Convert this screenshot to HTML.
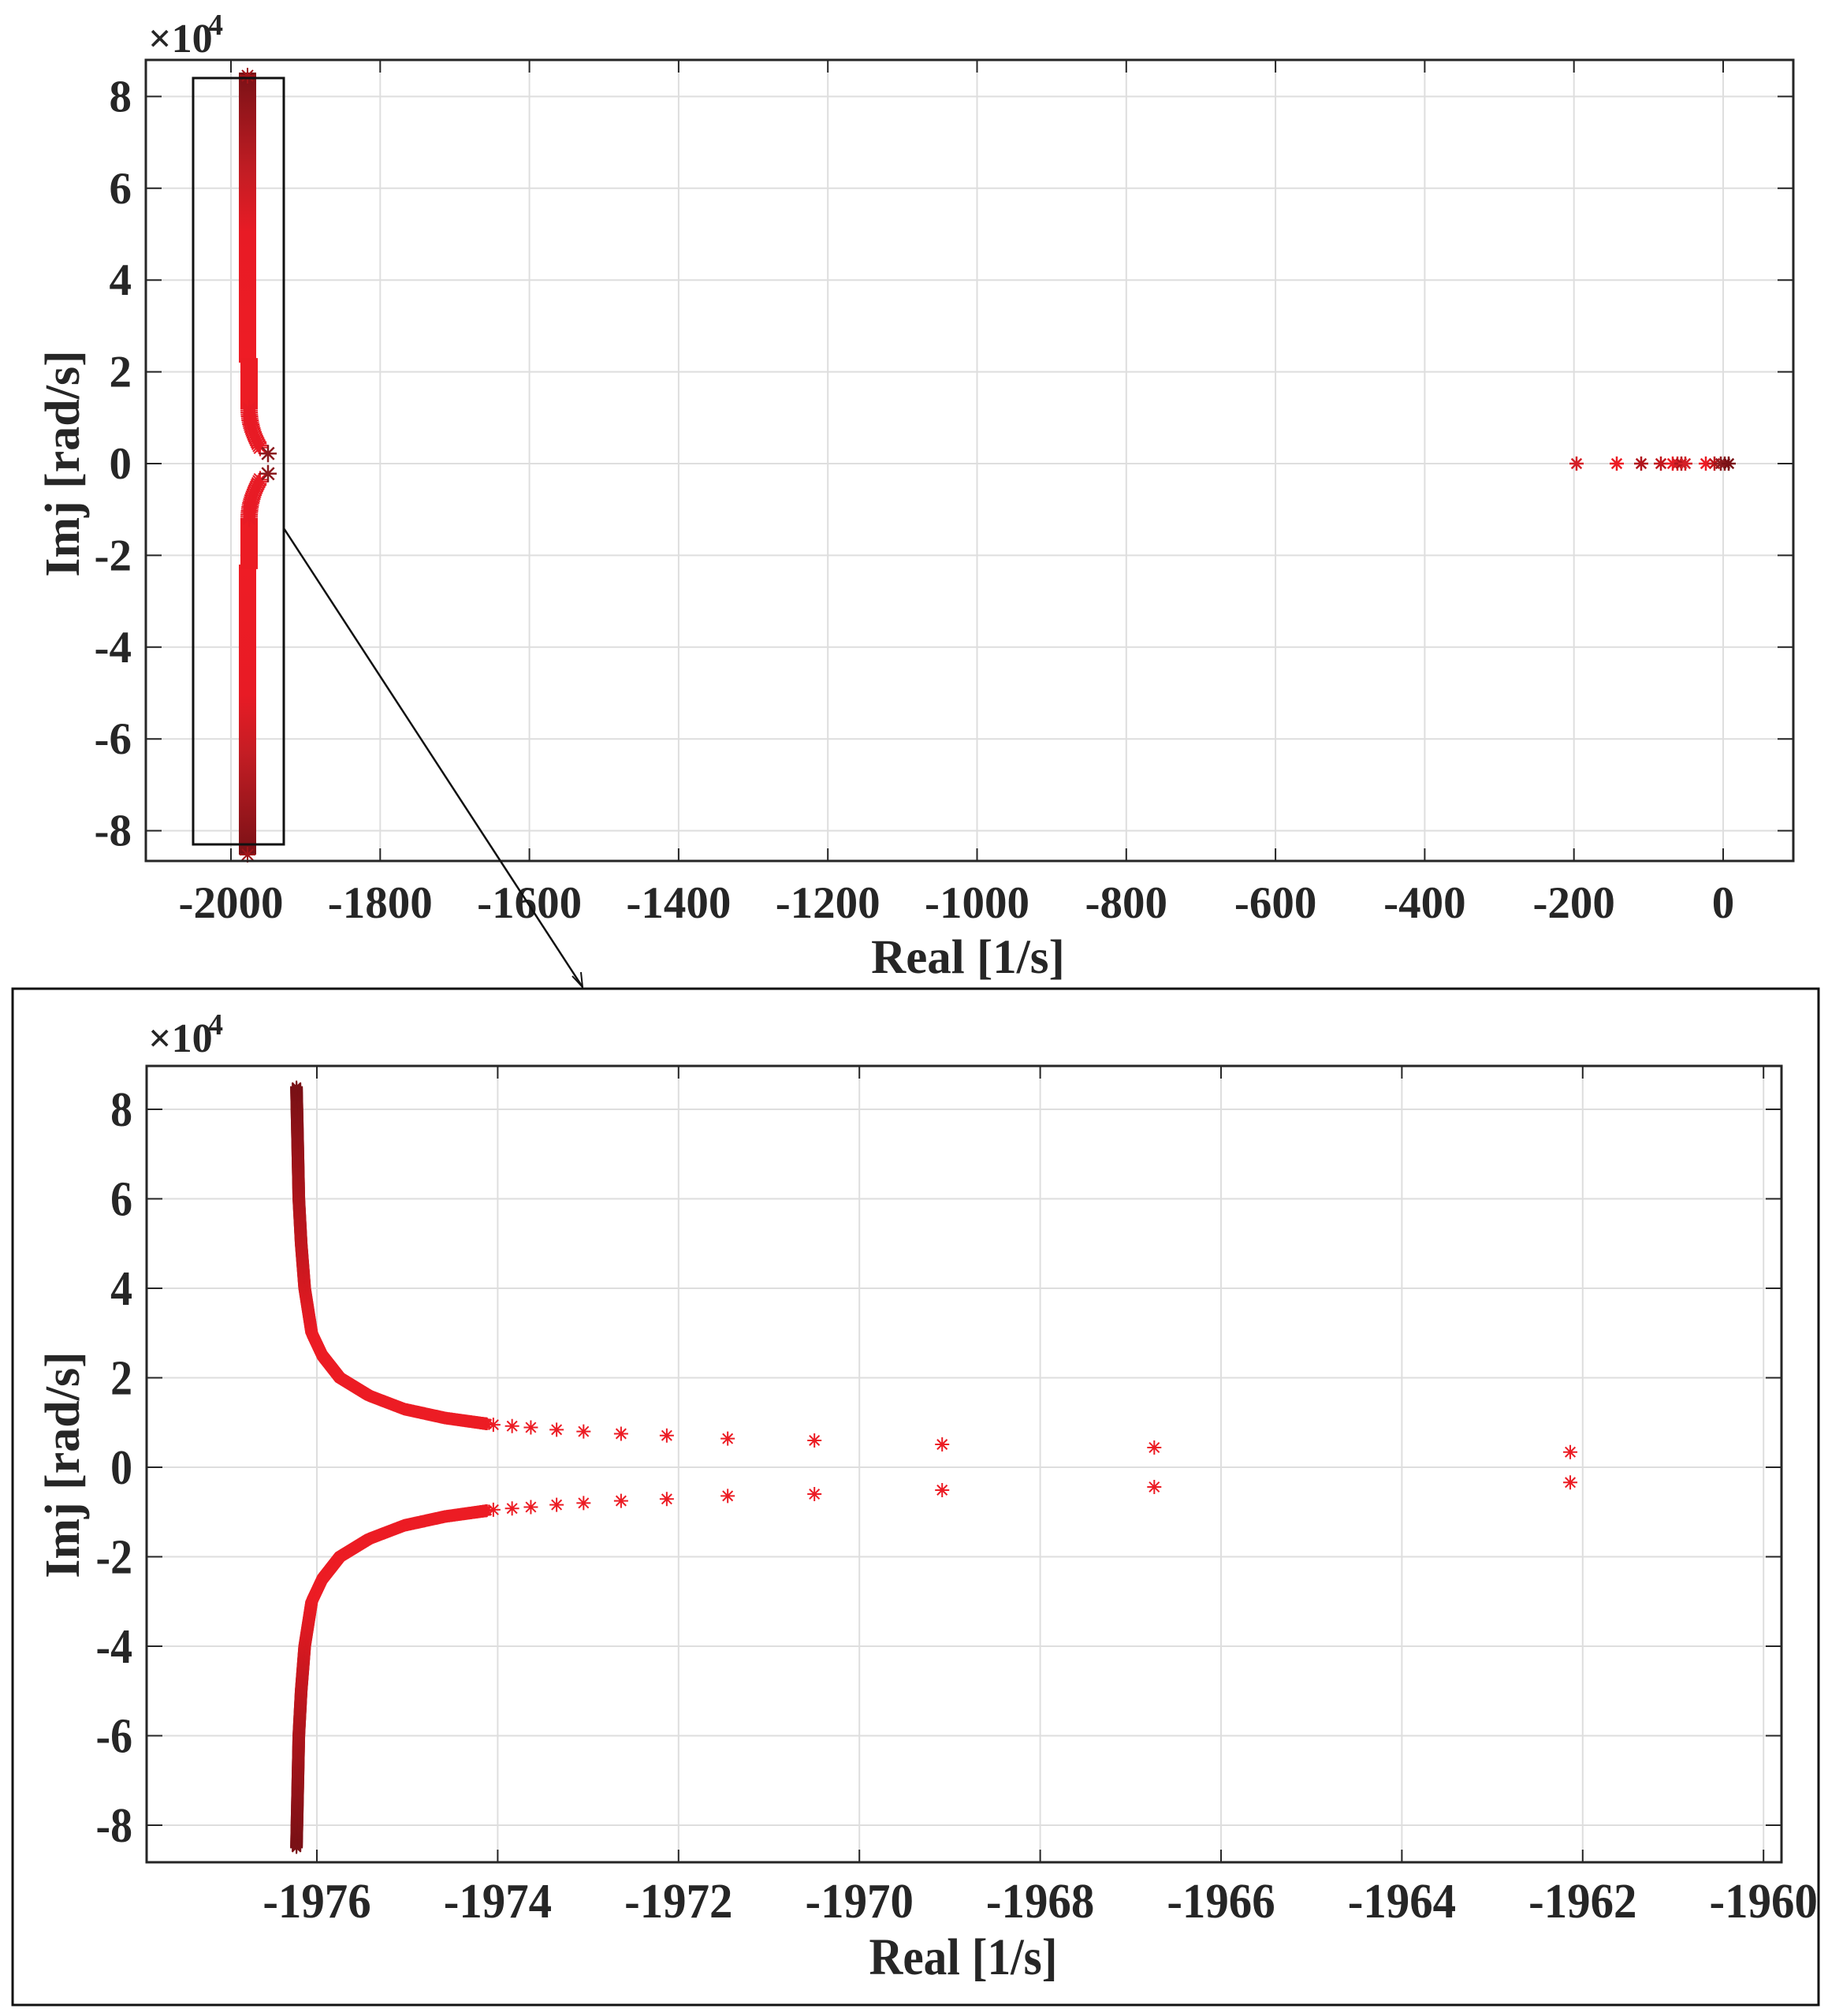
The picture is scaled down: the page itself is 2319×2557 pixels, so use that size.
<!DOCTYPE html>
<html><head><meta charset="utf-8"><style>
html,body{margin:0;padding:0;background:#fff}
svg{display:block}
text{font-family:"Liberation Serif",serif;font-weight:bold;fill:#262626}
</style></head><body>
<svg id="s" width="2319" height="2557" viewBox="0 0 2319 2557" xmlns="http://www.w3.org/2000/svg">
<defs>
<linearGradient id="gb" x1="0" y1="0" x2="0" y2="1">
<stop offset="0" stop-color="#7a1116"/><stop offset="0.35" stop-color="#c41d24"/><stop offset="0.55" stop-color="#e81b25"/><stop offset="1" stop-color="#ee1c25"/>
</linearGradient>
<linearGradient id="gb2" x1="0" y1="1" x2="0" y2="0">
<stop offset="0" stop-color="#7a1116"/><stop offset="0.35" stop-color="#c41d24"/><stop offset="0.55" stop-color="#e81b25"/><stop offset="1" stop-color="#ee1c25"/>
</linearGradient>
</defs>
<g id="top"></g>
<g id="bot"></g>
</svg>
<script>
var NS="http://www.w3.org/2000/svg";
function el(p,t,a,txt){var e=document.createElementNS(NS,t);for(var k in a)e.setAttribute(k,a[k]);if(txt!==undefined)e.textContent=txt;p.appendChild(e);return e;}
function star(p,x,y,r,c,w){
 var d="M"+(x-r)+" "+y+"H"+(x+r)+"M"+x+" "+(y-r)+"V"+(y+r);
 var q=r*0.7;
 d+="M"+(x-q)+" "+(y-q)+"L"+(x+q)+" "+(y+q)+"M"+(x-q)+" "+(y+q)+"L"+(x+q)+" "+(y-q);
 el(p,"path",{d:d,stroke:c,"stroke-width":w,fill:"none"});
}
function mix(a,b,t){return "rgb("+[0,1,2].map(function(i){return Math.round(a[i]+(b[i]-a[i])*t)}).join(",")+")";}
var RED=[236,28,36],DARK=[122,17,22];
function col(im){var t=Math.max(0,Math.min(1,(im-3)/5.5));return mix(RED,DARK,t);}
var T=document.getElementById("top"),B=document.getElementById("bot");

// ---------- TOP PLOT ----------
var L=185,R=2275,Tp=76,Bt=1092;
function tx(v){return 2186+v*0.9465;} function ty(v){return 588-v*58.2;}
[-2000,-1800,-1600,-1400,-1200,-1000,-800,-600,-400,-200,0].forEach(function(v){
 var x=tx(v);el(T,"line",{x1:x,x2:x,y1:Tp,y2:Bt,stroke:"#dedede","stroke-width":2});
 el(T,"line",{x1:x,x2:x,y1:Bt,y2:Bt-16,stroke:"#262626","stroke-width":2});
 el(T,"line",{x1:x,x2:x,y1:Tp,y2:Tp+16,stroke:"#262626","stroke-width":2});
 el(T,"text",{x:x,y:1164,"font-size":57,"text-anchor":"middle"},(v<0?"-":"")+Math.abs(v));
});
[-8,-6,-4,-2,0,2,4,6,8].forEach(function(v){
 var y=ty(v);el(T,"line",{x1:L,x2:R,y1:y,y2:y,stroke:"#dedede","stroke-width":2});
 el(T,"line",{x1:L,x2:L+20,y1:y,y2:y,stroke:"#262626","stroke-width":2});
 el(T,"line",{x1:R,x2:R-20,y1:y,y2:y,stroke:"#262626","stroke-width":2});
 el(T,"text",{x:167,y:y+19,"font-size":57,"text-anchor":"end"},(v<0?"-":"")+Math.abs(v));
});
el(T,"rect",{x:303,y:92,width:22,height:ty(2.2)-92,fill:"url(#gb)"});
el(T,"rect",{x:303,y:ty(-2.2),width:22,height:1084-ty(-2.2),fill:"url(#gb2)"});
el(T,"rect",{x:305,y:ty(2.3),width:22,height:ty(1.2)-ty(2.3),fill:"#ec1c24"});
el(T,"rect",{x:305,y:ty(-1.2),width:22,height:ty(1.2)-ty(2.3),fill:"#ec1c24"});
for(var i=0;i<=20;i++){var t=i/20;var im=1.2-t*0.85;var x=316+t*t*14;
 star(T,x,ty(im),11,"#e81b25",2);star(T,x,ty(-im),11,"#e81b25",2);}
star(T,340,ty(0.22),11,"#8b1a1e",2.5);star(T,340,ty(-0.22),11,"#8b1a1e",2.5);
star(T,314,96,10,"#a01519",2);star(T,314,1084,10,"#a01519",2);
[[2000,"#d42027"],[2051,"#ec1c24"],[2082,"#b0151c"],[2107,"#c0171d"],[2122,"#ec1c24"],[2128,"#d42027"],[2133,"#b0151c"],[2138,"#d42027"],[2164,"#ec1c24"],[2175,"#c0171d"],[2183,"#8b1a1e"],[2188,"#8b1a1e"],[2193,"#7a1116"]].forEach(function(p){star(T,p[0],588,9,p[1],2.5);});
el(T,"rect",{x:L,y:Tp,width:R-L,height:Bt-Tp,fill:"none",stroke:"#262626","stroke-width":3});
el(T,"rect",{x:245,y:99,width:115,height:972,fill:"none",stroke:"#111","stroke-width":3});
el(T,"line",{x1:360,y1:670,x2:739,y2:1252,stroke:"#111","stroke-width":2.5});
el(T,"path",{d:"M726 1238 L739 1252 L737 1233",stroke:"#111","stroke-width":2,fill:"none"});
el(T,"text",{x:188,y:66,"font-size":52,"font-weight":"normal"},"\u00d710");
el(T,"text",{x:264,y:44,"font-size":38,"font-weight":"normal"},"4");
el(T,"text",{x:1228,y:1234,"font-size":61,"text-anchor":"middle"},"Real [1/s]");
el(T,"text",{x:0,y:0,"font-size":62,"text-anchor":"middle",transform:"translate(100,588) rotate(-90)"},"Imj [rad/s]");

// ---------- BOTTOM PLOT ----------
el(B,"rect",{x:16,y:1254,width:2291,height:1289,fill:"none",stroke:"#111","stroke-width":3});
var L2=186,R2=2260,T2=1352,B2=2362;
function bx(v){return 402+(v+1976)*114.7;} function by(v){return 1861-v*56.75;}
[-1976,-1974,-1972,-1970,-1968,-1966,-1964,-1962,-1960].forEach(function(v){
 var x=bx(v);el(B,"line",{x1:x,x2:x,y1:T2,y2:B2,stroke:"#dedede","stroke-width":2});
 el(B,"line",{x1:x,x2:x,y1:B2,y2:B2-16,stroke:"#262626","stroke-width":2});
 el(B,"line",{x1:x,x2:x,y1:T2,y2:T2+16,stroke:"#262626","stroke-width":2});
 el(B,"text",{x:0,y:0,"font-size":62,"text-anchor":"middle",transform:"translate("+x+",2432) scale(0.95,1)"},""+v);
});
[-8,-6,-4,-2,0,2,4,6,8].forEach(function(v){
 var y=by(v);el(B,"line",{x1:L2,x2:R2,y1:y,y2:y,stroke:"#dedede","stroke-width":2});
 el(B,"line",{x1:L2,x2:L2+20,y1:y,y2:y,stroke:"#262626","stroke-width":2});
 el(B,"line",{x1:R2,x2:R2-20,y1:y,y2:y,stroke:"#262626","stroke-width":2});
 el(B,"text",{x:0,y:0,"font-size":62,"text-anchor":"end",transform:"translate(168,"+(y+21)+") scale(0.9,1)"},(v<0?"-":"")+Math.abs(v));
});
var A=[[0.34,1340],[0.44,985],[0.51,804],[0.6,695],[0.64,621],[0.71,569],[0.75,530],[0.8,498],[0.84,475],[0.89,453],[0.92,437],[0.95,421],[1.1,380],[1.3,345],[1.6,315],[2,290],[2.5,275],[3,266],[4,260],[5,257],[6,255],[8.5,253]];
function xof(im){for(var i=0;i<A.length-1;i++){if(im<=A[i+1][0]){var t=(im-A[i][0])/(A[i+1][0]-A[i][0]);return (A[i][1]+t*(A[i+1][1]-A[i][1]))*1.4866;}}return A[A.length-1][1]*1.4866;}
for(var i=0;i<12;i++){var im=A[i][0],x=A[i][1]*1.4866;star(B,x,by(im),9,"#ec1c24",2);star(B,x,by(-im),9,"#ec1c24",2);}
for(var k=0;k<=700;k++){var im=0.97+(8.5-0.97)*Math.pow(k/700,1.6);var x=xof(im);var c=col(im);star(B,x,by(im),8,c,2);star(B,x,by(-im),8,c,2);}
el(B,"rect",{x:L2,y:T2,width:R2-L2,height:B2-T2,fill:"none",stroke:"#262626","stroke-width":3});
el(B,"text",{x:188,y:1334,"font-size":52,"font-weight":"normal"},"\u00d710");
el(B,"text",{x:264,y:1312,"font-size":38,"font-weight":"normal"},"4");
el(B,"text",{x:0,y:0,"font-size":66,"text-anchor":"middle",transform:"translate(1222,2504) scale(0.9,1)"},"Real [1/s]");
el(B,"text",{x:0,y:0,"font-size":62,"text-anchor":"middle",transform:"translate(100,1858) rotate(-90)"},"Imj [rad/s]");
</script>
</body></html>
